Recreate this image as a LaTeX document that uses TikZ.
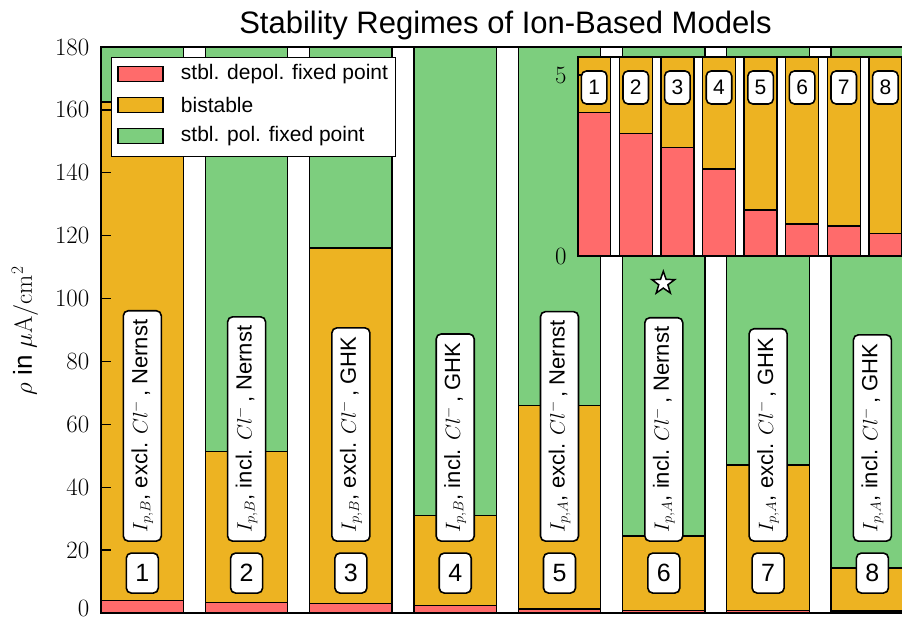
\documentclass[tikz,border=0pt]{standalone}
\usepackage[no-math]{fontspec}
\setmainfont{Liberation Sans}
\usetikzlibrary{shapes.geometric,positioning}
\definecolor{DepolRed}{HTML}{FF6B6B}
\definecolor{BistOrange}{HTML}{EDB322}
\definecolor{PolGreen}{HTML}{7DCE7E}

\begin{document}
\begin{tikzpicture}[x=1pt,y=1pt,
        regime/.style={draw=black,line width=1.3pt},
        numbox/.style={draw=black,fill=white,rounded corners=5pt,line width=1.6pt,
                     inner sep=0pt,minimum width=32pt,minimum height=40pt,
                     font=\fontsize{25}{25}\selectfont},
        inumbox/.style={numbox,minimum width=25.5pt,minimum height=33pt,
                     font=\fontsize{21}{21}\selectfont},
        labbox/.style={draw=black,fill=white,rounded corners=5pt,line width=1.6pt,
                     rotate=90,anchor=west,inner xsep=9pt,inner ysep=0pt,
                     minimum height=38pt,font=\fontsize{22}{22}\selectfont},
        ticklab/.style={anchor=east,inner sep=0pt,font=\fontsize{24}{24}\selectfont},
        keypatch/.style={draw=black,line width=1.5pt,minimum width=45pt,
                     minimum height=15pt,inner sep=0pt}]
  \useasboundingbox (0,0) rectangle (902,619);
  \begin{scope}
    \clip (0,0) rectangle (902,619);
    \begin{scope}[shift={(101,6)},x=104.3pt,y=3.144pt]
      \foreach \i/\r/\o/\lab in {
          1/4.0/162.5/{$I_{p,B}$, excl. $Cl^{-}$\,, Nernst},
          2/3.4/51.3/{$I_{p,B}$, incl. $Cl^{-}$\,, Nernst},
          3/3.0/116.1/{$I_{p,B}$, excl. $Cl^{-}$\,, GHK},
          4/2.4/31.0/{$I_{p,B}$, incl. $Cl^{-}$\,, GHK},
          5/1.27/66.1/{$I_{p,A}$, excl. $Cl^{-}$\,, Nernst},
          6/0.88/24.5/{$I_{p,A}$, incl. $Cl^{-}$\,, Nernst},
          7/0.83/47.1/{$I_{p,A}$, excl. $Cl^{-}$\,, GHK},
          8/0.63/14.3/{$I_{p,A}$, incl. $Cl^{-}$\,, GHK}}{
        \draw[regime,fill=DepolRed] (\i-1,0) rectangle (\i-0.209,\r);
        \draw[regime,fill=BistOrange] (\i-1,\r) rectangle (\i-0.209,\o);
        \draw[regime,fill=PolGreen] (\i-1,\o) rectangle (\i-0.209,180);
        \node[numbox] (num\i) at (\i-0.604,12.7) {\i};
        \node[labbox] (lab\i) at (\i-0.604,22.6) {\lab};
      }
    \end{scope}
    \foreach \v in {0,20,...,180}{
      \draw[line width=1.3pt] (101,{6+3.144*\v}) -- ++(10,0);
    }
    \foreach \v in {20,40,...,180}{
      \node[ticklab] (t\v) at (89.5,{6+3.144*\v}) {$\v$};
    }
    \node[ticklab,anchor=south east] (t0) at (89.5,2.5) {$0$};
    \draw[line width=1.8pt] (912,572) -- (101,572) -- (101,6) -- (912,6);
    \node[star,star points=5,star point ratio=2.5,draw=black,fill=white,
          line width=1.5pt,minimum size=24pt,inner sep=0pt] (star) at (663.3,335.7) {};
    \begin{scope}[shift={(577.7,363)},x=41.6pt,y=36.2pt]
      \fill[white] (0,0) rectangle (8.2,5.5);
      \foreach \i/\r in {1/3.96,2/3.39,3/2.99,4/2.40,5/1.27,6/0.88,7/0.83,8/0.63}{
        \draw[regime,fill=DepolRed] (\i-1,0) rectangle (\i-0.207,\r);
        \draw[regime,fill=BistOrange] (\i-1,\r) rectangle (\i-0.207,5.5);
      }
      \draw[line width=1.3pt] (0,5) -- ++(6pt,0);
      \foreach \i in {1,...,8}
        \node[inumbox] (inum\i) at (\i-0.604,4.655) {\i};
      \draw[line width=1.8pt] (8.2,0) -- (0,0) -- (0,5.5) -- (8.2,5.5);
      \node[ticklab] (it0) at ([xshift=-11pt]0,0) {$0$};
      \node[ticklab] (it5) at ([xshift=-11pt]0,5) {$5$};
    \end{scope}
    \node[draw=black,fill=white,line width=1.6pt,minimum width=284pt,minimum height=99pt,
          anchor=north west,inner sep=0pt] (leg) at (110.7,562.3) {};
    \foreach \k/\c/\t in {1/DepolRed/stbl. depol. fixed point,
                          2/BistOrange/bistable,
                          3/PolGreen/stbl. pol. fixed point}{
      \node[keypatch,fill=\c] (key\k) at (140.5,576-31*\k) {};
      \node[right=17pt of key\k,inner sep=0pt,font=\fontsize{21}{21}\selectfont] (keytxt\k) {\t};
    }
    \node[anchor=base,font=\fontsize{31}{31}\selectfont] (title) at (505.5,585.7)
          {Stability Regimes of Ion-Based Models};
    \node[rotate=90,font=\fontsize{26}{26}\selectfont] (ylab) at (25,288)
          {$\rho$ in $\mu\mathrm{A}/\mathrm{cm}^2$};
  \end{scope}
\end{tikzpicture}
\end{document}
